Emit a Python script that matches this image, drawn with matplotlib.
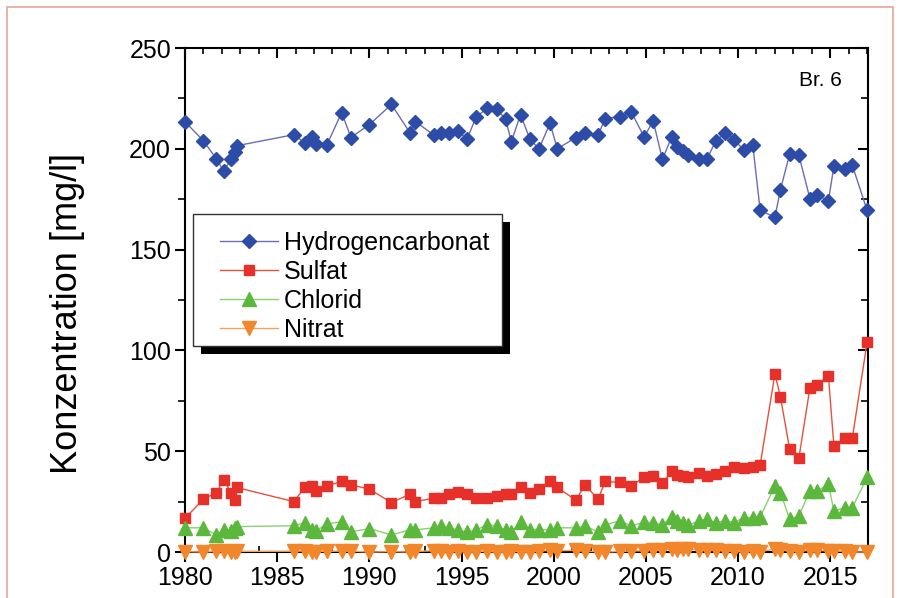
import matplotlib
matplotlib.use("Agg")
import matplotlib.pyplot as plt
from matplotlib.patches import Rectangle
from matplotlib.ticker import MultipleLocator
from matplotlib.transforms import IdentityTransform

plt.rcParams['font.family'] = ['Liberation Sans', 'DejaVu Sans']

years = [1980.0, 1981.0, 1981.7, 1982.1, 1982.5, 1982.7, 1982.8,
         1985.9, 1986.5, 1986.9, 1987.1, 1987.7, 1988.5, 1989.0,
         1990.0, 1991.2, 1992.2, 1992.5, 1993.5, 1993.9, 1994.3,
         1994.8, 1995.3, 1995.8, 1996.4, 1996.9, 1997.4, 1997.7,
         1998.2, 1998.7, 1999.2, 1999.8, 2000.2, 2001.2, 2001.7,
         2002.4, 2002.8, 2003.6, 2004.2, 2004.9, 2005.4, 2005.9,
         2006.4, 2006.7, 2007.0, 2007.3, 2007.9, 2008.3, 2008.8,
         2009.3, 2009.8, 2010.3, 2010.8, 2011.2, 2012.0, 2012.3,
         2012.8, 2013.3, 2013.9, 2014.3, 2014.9, 2015.2, 2015.8,
         2016.2, 2017.0]

hydrogencarbonat = [213.4, 204, 195, 189, 195, 198.5, 201.5,
                    207, 203, 206, 202.6, 202, 218, 205.6,
                    212, 222, 208, 213.5, 206.8, 207.6, 207.6,
                    209, 204.8, 216, 220, 219.7, 214.6, 203.4,
                    217, 205, 200, 212.6, 200, 205.6, 208,
                    206.8, 215, 216, 218.4, 206, 213.7, 194.7,
                    206, 201, 199, 196.8, 195, 194.7, 204,
                    208, 204.6, 199.3, 201.8, 169.5, 166, 179.8,
                    197.3, 196.8, 175.3, 177.3, 174, 191.3, 190.2,
                    191.8, 169.5]

sulfat = [16.7, 26.2, 29.5, 35.8, 29.5, 25.8, 32,
          25, 32, 32.8, 30.3, 32.8, 35, 33.3,
          31.2, 24.5, 28.7, 25, 26.7, 27, 28.7,
          30, 28.7, 27, 26.7, 27.8, 28.7, 28.7,
          32, 29.2, 31.2, 35, 32, 25.7, 33.3,
          26.2, 35, 34.5, 32.8, 37, 37.8, 34,
          40, 38.3, 37.8, 37, 39.4, 37.8, 38.6,
          40.3, 42.2, 41.9, 42.4, 43.2, 88.3, 77,
          51, 46.6, 81.4, 82.8, 87.5, 52.7, 56.5,
          56.5, 104]

chlorid = [12, 12, 8.4, 11, 10.5, 12, 12.6,
           13, 14.5, 11, 10.4, 14, 15, 10,
           11.6, 8.5, 11, 11, 12, 12.9, 12,
           11, 10, 11, 13.5, 12.9, 11, 10,
           15, 11, 11, 11, 12, 12, 12.9,
           10, 13.5, 15.5, 12.9, 14.8, 14.6, 13.4,
           17.4, 15.4, 14.6, 13.4, 15.4, 16.2, 14.6,
           15.4, 14.6, 17.1, 17.1, 17.4, 32.8, 29.5,
           16.2, 17.9, 30.3, 30.3, 33.6, 20.4, 22,
           22, 37]

nitrat = [0.2, 0.0, 0.3, 0.5, 0.2, 0.0, 0.3,
          0.4, 0.5, 0.0, 0.2, 0.3, 0.5, 0.4,
          0.0, 0.2, 0.0, 0.3, 0.6, 0.4, 0.2,
          0.3, 0.0, 0.2, 0.3, 0.0, 0.2, 0.3,
          0.2, 0.0, 0.5, 0.8, 0.6, 0.8, 0.3,
          0.2, 0.0, 0.3, 0.5, 0.6, 1.0, 1.2,
          1.3, 1.2, 1.4, 1.3, 1.2, 1.0, 0.8,
          0.5, 0.3, 0.0, 0.4, 0.2, 1.5, 1.0,
          0.5, 0.2, 1.0, 0.8, 0.5, 0.5, 0.3,
          0.0, 0.0]

series_names = ["Hydrogencarbonat", "Sulfat", "Chlorid", "Nitrat"]
x_ticks = [1980, 1985, 1990, 1995, 2000, 2005, 2010, 2015]
y_ticks = [0, 50, 100, 150, 200, 250]

fig = plt.figure(figsize=(9.01, 5.98), dpi=100)
ax = fig.add_axes([185/901, 1-552/598, (868-185)/901, (552-48)/598])

ax.plot(years, hydrogencarbonat, color='#6c6cb4', lw=1.0, marker='D', ms=7.2,
        mfc='#2c4ca8', mec='#2c4ca8', label=series_names[0], zorder=3,
        clip_on=False)
ax.plot(years, sulfat, color='#e8503a', lw=1.0, marker='s', ms=7.5,
        mfc='#e8302a', mec='#e8302a', label=series_names[1], zorder=3,
        clip_on=False)
ax.plot(years, chlorid, color='#8ccf72', lw=1.0, marker='^', ms=10,
        mfc='#5cb83c', mec='#5cb83c', label=series_names[2], zorder=3,
        clip_on=False)
ax.plot(years, nitrat, color='#f4a060', lw=1.0, marker='v', ms=10,
        mfc='#f2862a', mec='#f2862a', label=series_names[3], zorder=3,
        clip_on=False)

ax.set_xlim(1980, 2017.05)
ax.set_ylim(0, 250)
ax.set_xticks(x_ticks)
ax.set_xticklabels([str(t) for t in x_ticks])
ax.set_yticks(y_ticks)
ax.set_yticklabels([str(t) for t in y_ticks])
ax.xaxis.set_minor_locator(MultipleLocator(1))
ax.yaxis.set_minor_locator(MultipleLocator(25))

for sp in ax.spines.values():
    sp.set_linewidth(1.5)
    sp.set_color('black')

ax.tick_params(axis='both', which='major', labelsize=18, width=1.5, length=7,
               direction='out', top=True, right=True, pad=3)
ax.tick_params(axis='x', which='minor', width=1.2, length=4, direction='in',
               top=True, bottom=True)
ax.tick_params(axis='y', which='minor', width=1.2, length=5, direction='out',
               right=True, left=True)
for t in ax.xaxis.get_major_ticks():
    t.tick2line.set_marker(3)
for t in ax.xaxis.get_minor_ticks():
    t.tick2line.set_marker(3)
for t in ax.yaxis.get_major_ticks():
    t.tick2line.set_marker(0)
for t in ax.yaxis.get_minor_ticks():
    t.tick2line.set_marker(0)

ax.set_ylabel("Konzentration [mg/l]", fontsize=26)
ax.yaxis.set_label_coords(-0.146, 0.474)

ax.text(0.93, 0.935, "Br. 6", transform=ax.transAxes, fontsize=15,
        ha='center', va='center')

leg = ax.legend(loc='upper left', bbox_to_anchor=((220-185)/683, (552-231)/504),
                borderaxespad=0, fontsize=18, frameon=False,
                handlelength=2.3, labelspacing=0.2, borderpad=0.0,
                handletextpad=0.25)
leg.set_zorder(7)

fig.canvas.draw()
bb = leg.get_window_extent()
x0, x1 = bb.x0 - 27, bb.x1 + 13
y0, y1 = bb.y0 - 4, bb.y1 + 17
box = Rectangle((x0, y0), x1 - x0, y1 - y0, transform=IdentityTransform(),
                facecolor='white', edgecolor='#333333', lw=1.0,
                zorder=6, clip_on=False)
shadow = Rectangle((x0 + 8, y0 - 8), x1 - x0, y1 - y0,
                   transform=IdentityTransform(), facecolor='black',
                   edgecolor='none', zorder=5.5, clip_on=False)
ax.add_artist(shadow)
ax.add_artist(box)

frame = Rectangle((7/901, -0.02), (893-7)/901, 1.02 - 7/598,
                  transform=fig.transFigure, fill=False,
                  edgecolor='#e8a595', lw=1.2, clip_on=False)
fig.patches.append(frame)

fig.savefig("out.png", dpi=100)
